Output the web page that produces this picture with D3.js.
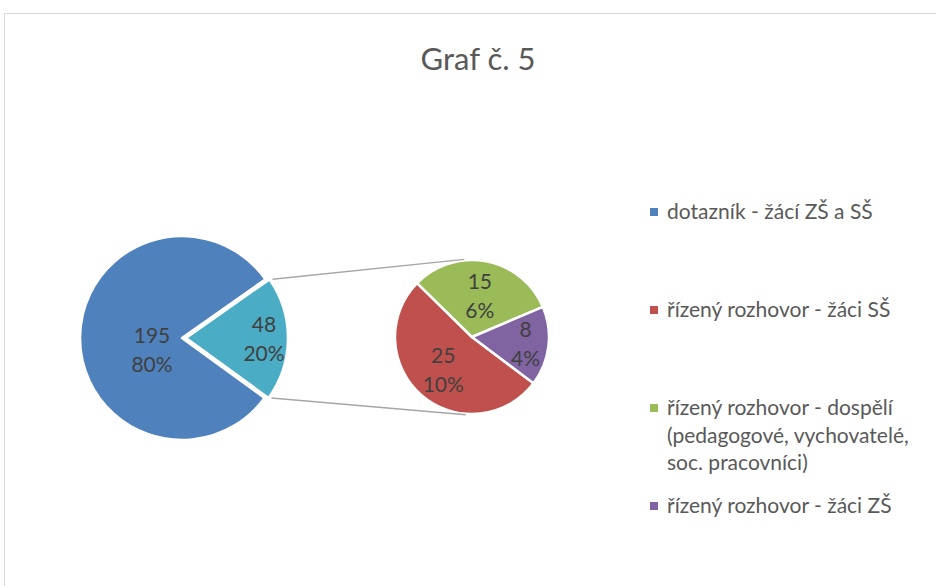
<!DOCTYPE html>
<html>
<head>
<meta charset="utf-8">
<script src="https://cdn.jsdelivr.net/npm/d3@7"></script>
<style>
body { margin: 0; background: #fff; }
text { font-family: Lato, "Open Sans", sans-serif; }
</style>
</head>
<body>
<div id="chart"></div>
<script>

// data
var title = "Graf č. 5";
var mainNames = ["dotazník - žácí ZŠ a SŠ", "ostatní"];
var mainValues = [195, 48];
var mainPercents = ["80%", "20%"];
var subNames = ["řízený rozhovor - žáci SŠ", "řízený rozhovor - dospělí (pedagogové, vychovatelé, soc. pracovníci)", "řízený rozhovor - žáci ZŠ"];
var subValues = [25, 15, 8];
var subPercents = ["10%", "6%", "4%"];
var legendLines = [
	["dotazník - žácí ZŠ a SŠ"],
	["řízený rozhovor - žáci SŠ"],
	["řízený rozhovor - dospělí", "(pedagogové, vychovatelé,", "soc. pracovníci)"],
	["řízený rozhovor - žáci ZŠ"]
];
var mainColors = ["#4f81bd", "#4bacc6"];
var subColors = ["#c0504d", "#9bbb59", "#8064a2"];
var legendColors = ["#4f81bd", "#c0504d", "#9bbb59", "#8064a2"];

var width = 936,
height = 586;

var svg = d3.select("#chart").append("svg")
.attr("width", width)
.attr("height", height);

// chart border
svg.append("rect")
.attr("x", 4.5).attr("y", 13.5)
.attr("width", 1000).attr("height", 1000)
.attr("fill", "none")
.attr("stroke", "#d9d9d9")
.attr("stroke-width", 1);

svg.append("text")
.attr("x", 478).attr("y", 70)
.attr("text-anchor", "middle")
.attr("fill", "#595959")
.style("font-size", "31px")
.text(title);

var rad = Math.PI / 180;

// main pie
var mainC = [182, 338], mainR = 102, explode = 4;
var mainArcs = d3.pie().sort(null)
.startAngle(126 * rad).endAngle(486 * rad)(mainValues);
var mainArc = d3.arc().innerRadius(0).outerRadius(mainR);

var mainG = svg.append("g").attr("transform", "translate(" + mainC + ")");

function offset(d, i) {
	if (i == 0) return [0, 0];
	var a = (d.startAngle + d.endAngle) / 2;
	return [Math.sin(a) * explode, -Math.cos(a) * explode];
}

mainG.selectAll("path").data(mainArcs).enter().append("path")
.attr("d", mainArc)
.attr("transform", function(d, i) { return "translate(" + offset(d, i) + ")"; })
.attr("fill", function(d, i) { return mainColors[i]; })
.attr("stroke", "#fff")
.attr("stroke-width", 2.5)
.attr("stroke-linejoin", "round");

// secondary pie
var subC = [472, 337], subR = 77;
var subArcs = d3.pie().sort(null)
.startAngle(127 * rad).endAngle(487 * rad)(subValues);
var subArc = d3.arc().innerRadius(0).outerRadius(subR);

var subG = svg.append("g").attr("transform", "translate(" + subC + ")");
subG.selectAll("path").data(subArcs).enter().append("path")
.attr("d", subArc)
.attr("fill", function(d, i) { return subColors[i]; })
.attr("stroke", "#fff")
.attr("stroke-width", 2.5)
.attr("stroke-linejoin", "round");

// connector lines: teal slice corners -> tangent points of secondary pie
var other = mainArcs[1], off = offset(other, 1);
[other.startAngle, other.endAngle].forEach(function(a, k) {
	var p = [mainC[0] + off[0] + Math.sin(a) * mainR + 3, mainC[1] + off[1] - Math.cos(a) * mainR];
	var dx = p[0] - subC[0], dy = p[1] - subC[1];
	var d = Math.sqrt(dx * dx + dy * dy);
	var base = Math.atan2(dy, dx);
	var t = Math.acos(subR / d);
	var ang = k == 0 ? base + t : base - t;
	var q = [subC[0] + Math.cos(ang) * (subR + 1), subC[1] + Math.sin(ang) * (subR + 1)];
	svg.append("line")
	.attr("x1", p[0]).attr("y1", p[1])
	.attr("x2", q[0]).attr("y2", q[1])
	.attr("stroke", "#a6a6a6")
	.attr("stroke-width", 1.5);
});

// data labels
function addLabel(g, pos, value, pct) {
	var t = g.append("text")
	.attr("text-anchor", "middle")
	.attr("fill", "#404040")
	.style("font-size", "21px");
	t.append("tspan").attr("x", pos[0]).attr("y", pos[1] - 7).text(value);
	t.append("tspan").attr("x", pos[0]).attr("y", pos[1] + 22).text(pct);
}

var mainLabelR = [30, 78];
mainArcs.forEach(function(d, i) {
	var a = (d.startAngle + d.endAngle) / 2, o = offset(d, i);
	var pos = [o[0] + Math.sin(a) * mainLabelR[i], o[1] - Math.cos(a) * mainLabelR[i] + (i == 0 ? 12 : 0)];
	addLabel(mainG, pos, mainValues[i], mainPercents[i]);
});

var subLabelR = [44, 42, 54];
subArcs.forEach(function(d, i) {
	var a = (d.startAngle + d.endAngle) / 2;
	var pos = [Math.sin(a) * subLabelR[i], -Math.cos(a) * subLabelR[i]];
	addLabel(subG, pos, subValues[i], subPercents[i]);
});

// legend
var legend = svg.selectAll("g.legend").data(legendLines).enter().append("g")
.attr("class", "legend")
.attr("transform", function(d, i) { return "translate(650," + (212 + i * 98) + ")"; });

legend.append("rect")
.attr("x", 0).attr("y", -4)
.attr("width", 8).attr("height", 8)
.attr("fill", function(d, i) { return legendColors[i]; });

legend.each(function(lines) {
	var t = d3.select(this).append("text")
	.attr("fill", "#595959")
	.style("font-size", "21px");
	lines.forEach(function(l, j) {
		t.append("tspan").attr("x", 17).attr("y", 7 + j * 27.5).text(l);
	});
});

</script>
</body>
</html>
